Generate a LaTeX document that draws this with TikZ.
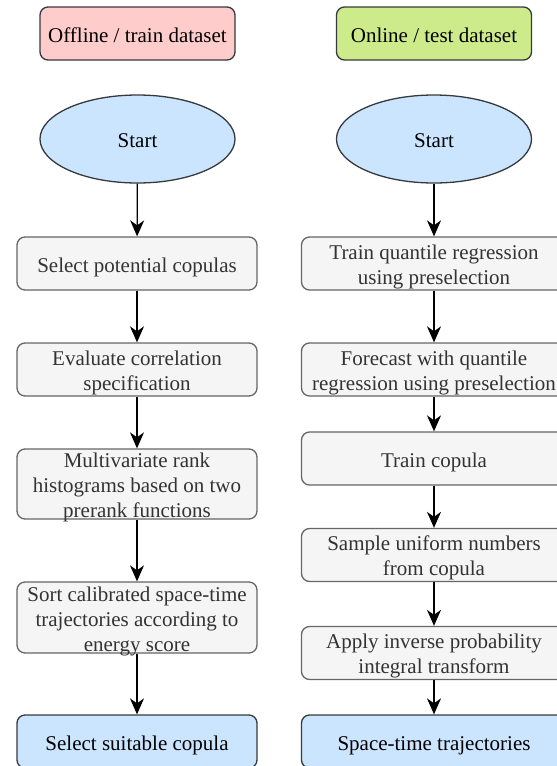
\documentclass[tikz,border=0pt]{standalone}
\usepackage{fontspec}
\setmainfont{Liberation Serif}
\usepackage{xcolor}
\usepackage{tikz}
\usetikzlibrary{shapes.geometric,arrows.meta}

\definecolor{edgegray}{HTML}{36393D}
\definecolor{stepedge}{HTML}{666666}
\definecolor{stepfill}{HTML}{F5F5F5}
\definecolor{steptext}{HTML}{333333}
\definecolor{bluefill}{HTML}{CCE5FF}
\definecolor{pinkfill}{HTML}{FFCCCC}
\definecolor{greenfill}{HTML}{CDEB8B}

\newcommand{\steplines}[1]{\begin{tabular}[t]{@{}c@{}}#1\end{tabular}}

\tikzset{
	box/.style={draw=edgegray, line width=1.3pt, rounded corners=8pt, inner sep=0pt, font=\fontsize{21}{25.2}\selectfont},
	oneline/.style={text height=17.5pt, text depth=0pt},
	twolines/.style={text height=0pt, text depth=9pt},
	threelines/.style={text height=0pt, text depth=33pt},
	header/.style={box, oneline, minimum width=195pt, minimum height=53pt},
	startnode/.style={box, oneline, ellipse, fill=bluefill, minimum width=195pt, minimum height=88pt},
	stepbox/.style={box, draw=stepedge, fill=stepfill, text=steptext, minimum height=53pt},
	endbox/.style={box, oneline, fill=bluefill, minimum height=53pt},
	flow/.style={line width=1.3pt, -{Stealth[length=16pt, width=14pt, inset=5pt]}}
}

\begin{document}
\begin{tikzpicture}[x=1pt, y=-1pt]
	\clip (0,0) rectangle (557,766);

	\node[header, fill=pinkfill] (offline) at (137.5,33.5) {\steplines{Offline / train dataset}};
	\node[header, fill=greenfill] (online) at (434,33.5) {\steplines{Online / test dataset}};

	\node[startnode] (startL) at (137.5,139) {\steplines{Start}};
	\node[stepbox, oneline, minimum width=240pt] (select) at (137,263.5) {\steplines{Select potential copulas}};
	\node[stepbox, twolines, minimum width=240pt] (evaluate) at (137,369.5) {\steplines{Evaluate correlation\\specification}};
	\node[stepbox, threelines, minimum width=240pt, minimum height=70pt] (rankhist) at (137,484) {\steplines{Multivariate rank\\histograms based on two\\prerank functions}};
	\node[stepbox, threelines, minimum width=240pt, minimum height=71pt] (sortes) at (137,617.5) {\steplines{Sort calibrated space-time\\trajectories according to\\energy score}};
	\node[endbox, minimum width=240pt] (suitable) at (137,741.5) {\steplines{Select suitable copula}};

	\draw[flow] (startL) -- (select);
	\draw[flow] (select) -- (evaluate);
	\draw[flow] (evaluate) -- (rankhist);
	\draw[flow] (rankhist) -- (sortes);
	\draw[flow] (sortes) -- (suitable);

	\node[startnode] (startR) at (434,139) {\steplines{Start}};
	\node[stepbox, twolines, minimum width=265pt] (trainqr) at (434,263.5) {\steplines{Train quantile regression\\using preselection}};
	\node[stepbox, twolines, minimum width=265pt] (forecast) at (434,369.5) {\steplines{Forecast with quantile\\regression using preselection}};
	\node[stepbox, oneline, minimum width=265pt] (traincop) at (434,458.5) {\steplines{Train copula}};
	\node[stepbox, twolines, minimum width=265pt] (sample) at (434,555) {\steplines{Sample uniform numbers\\from copula}};
	\node[stepbox, twolines, minimum width=265pt] (inverse) at (434,653) {\steplines{Apply inverse probability\\integral transform}};
	\node[endbox, minimum width=265pt] (traject) at (434,741.5) {\steplines{Space-time trajectories}};

	\draw[flow] (startR) -- (trainqr);
	\draw[flow] (trainqr) -- (forecast);
	\draw[flow] (forecast) -- (traincop);
	\draw[flow] (traincop) -- (sample);
	\draw[flow] (sample) -- (inverse);
	\draw[flow] (inverse) -- (traject);
\end{tikzpicture}
\end{document}
